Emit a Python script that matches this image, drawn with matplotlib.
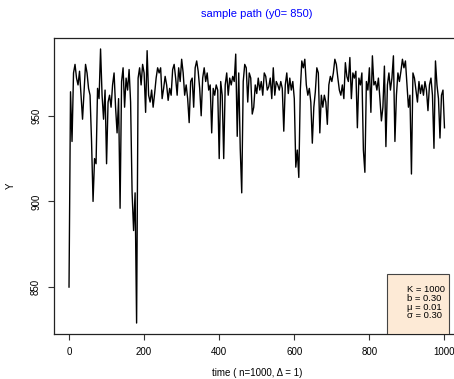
import numpy as np
import matplotlib
matplotlib.use("Agg")
import matplotlib.pyplot as plt
from matplotlib.patches import Rectangle

plt.rcParams['font.family'] = ['Liberation Sans', 'DejaVu Sans']

time = np.arange(0, 1001, 4)
values = [
    850, 964, 935, 975, 980, 972, 968, 976, 962, 948,
    964, 980, 975, 966, 962, 935, 900, 925, 922, 966,
    960, 989, 962, 948, 965, 922, 958, 962, 955, 968,
    975, 955, 940, 960, 896, 970, 978, 955, 972, 965,
    977, 958, 905, 883, 905, 829, 972, 978, 968, 980,
    975, 952, 988, 962, 958, 965, 955, 963, 972, 978,
    975, 978, 960, 966, 973, 968, 959, 966, 962, 977,
    980, 972, 962, 978, 970, 983, 975, 962, 968, 960,
    946, 970, 972, 955, 978, 982, 976, 966, 950, 972,
    978, 970, 975, 965, 968, 940, 966, 962, 968, 965,
    925, 970, 962, 925, 968, 975, 962, 972, 968, 973,
    970, 986, 938, 975, 931, 905, 970, 980, 978, 958,
    975, 972, 951, 955, 968, 963, 972, 965, 970, 962,
    975, 973, 965, 967, 972, 960, 978, 962, 970, 968,
    965, 970, 966, 941, 968, 975, 963, 972, 965, 970,
    960, 920, 930, 914, 965, 982, 978, 983, 968, 962,
    966, 958, 934, 955, 964, 978, 975, 940, 962, 955,
    962, 958, 945, 968, 973, 970, 975, 983, 980, 972,
    965, 962, 968, 960, 981, 973, 970, 984, 960, 975,
    972, 976, 943, 972, 968, 975, 930, 917, 970, 965,
    978, 952, 985, 968, 970, 965, 972, 960, 947, 955,
    979, 932, 968, 975, 965, 972, 985, 935, 962, 975,
    970, 976, 983, 978, 982, 968, 955, 962, 916, 975,
    972, 965, 958, 970, 963, 968, 962, 970, 965, 953,
    968, 972, 962, 931, 982, 968, 960, 937, 962, 965, 943,
]

x_ticks = [0, 200, 400, 600, 800, 1000]
y_ticks = [850, 900, 950]
legend_lines = ["K = 1000", "b = 0.30", "\u03bc = 0.01", "\u03c3 = 0.30"]

W, H = 454, 379
fig = plt.figure(figsize=(W / 100, H / 100), dpi=100)
left, right, top, bottom = 54, 459.5, 38, 334
ax = fig.add_axes([left / W, 1 - bottom / H, (right - left) / W, (bottom - top) / H])

ax.plot(time, values, color='black', lw=1.0)

ymin, ymax = min(values), max(values)
pad = 0.04 * (ymax - ymin)
ax.set_ylim(ymin - pad, ymax + pad)
ax.set_xlim(-40, 1040)

ax.set_xticks(x_ticks)
ax.set_yticks(y_ticks)
ax.set_yticklabels([str(v) for v in y_ticks], rotation=90, va='center')
ax.tick_params(axis='both', length=4.3, width=0.8, labelsize=7, pad=5, color='#333333')
for s in ax.spines.values():
    s.set_linewidth(0.9)
    s.set_color('#222222')

ax.set_title("sample path (y0= 850)", color='blue', fontsize=8, pad=15)
ax.set_xlabel("time ( n=1000, \u0394 = 1)", fontsize=7, labelpad=8)
ax.set_ylabel("Y", fontsize=7, labelpad=11)

# parameter box
y0 = ymin - pad
rect = Rectangle((846, y0), 166, 857.5 - y0, facecolor='#FDEAD6', edgecolor='#444444',
                 lw=0.8, zorder=3)
ax.add_patch(rect)
ax.text(900, 851.2, "\n".join(legend_lines), fontsize=6.8, va='top', ha='left',
        linespacing=0.97, zorder=4)

fig.savefig("out.png", dpi=100)
